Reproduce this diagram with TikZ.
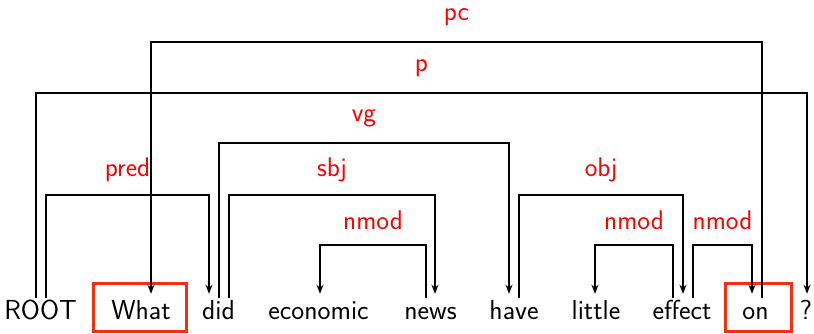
\documentclass[tikz,border=0pt]{standalone}
\usetikzlibrary{arrows.meta}
\definecolor{boxred}{RGB}{250,45,12}
\definecolor{labred}{RGB}{255,0,0}
\tikzset{
  word/.style={anchor=base, inner sep=0pt, text height=22pt, text depth=6pt,
    font=\fontsize{27.5}{33}\selectfont\sffamily},
  lab/.style={text=labred, inner sep=0pt, font=\fontsize{27}{32}\selectfont\sffamily},
  dep/.style={line width=1.5pt, -{Stealth[length=9pt,width=7pt]}, shorten >=4pt},
  hibox/.style={draw=boxred, line width=3pt, inner sep=0pt}
}
\newcommand\deparc[6]{%
  \draw[dep] ([xshift=#2]#1.north) -- ([xshift=#2]#1.north |- 0,#5)
    -- ([xshift=#4]#3.north |- 0,#5) node[lab, midway, yshift=25pt] {#6}
    -- ([xshift=#4]#3.north);}
\begin{document}
\begin{tikzpicture}[x=1pt,y=1pt]
\useasboundingbox (0,0) rectangle (814,334);
\node[word] (root) at (40.5,14) {ROOT};
\node[word] (what) at (141,14) {What};
\node[word] (did) at (218.5,14) {did};
\node[word] (economic) at (318.5,14) {economic};
\node[word] (news) at (430.5,14) {news};
\node[word] (have) at (514,14) {have};
\node[word] (little) at (596,14) {little};
\node[word] (effect) at (682,14) {effect};
\node[word] (on) at (755.5,14) {on};
\node[word] (qm) at (806,14) {?};
\node[hibox, minimum width=93pt, minimum height=48pt] (whatbox) at (140,26) {};
\node[hibox, minimum width=66pt, minimum height=48pt] (onbox) at (758.5,26) {};
\deparc{on}{6.5pt}{what}{10pt}{292}{pc}
\deparc{root}{-4.5pt}{qm}{1pt}{241}{p}
\deparc{did}{0.5pt}{have}{-5pt}{191}{vg}
\deparc{root}{5.5pt}{did}{-9.5pt}{139}{pred}
\deparc{did}{10.5pt}{news}{4.5pt}{139}{sbj}
\deparc{have}{5pt}{effect}{1pt}{139}{obj}
\deparc{news}{-4.5pt}{economic}{1.5pt}{89}{nmod}
\deparc{effect}{-9pt}{little}{-1pt}{89}{nmod}
\deparc{effect}{11pt}{on}{-3.5pt}{89}{nmod}
\end{tikzpicture}
\end{document}
